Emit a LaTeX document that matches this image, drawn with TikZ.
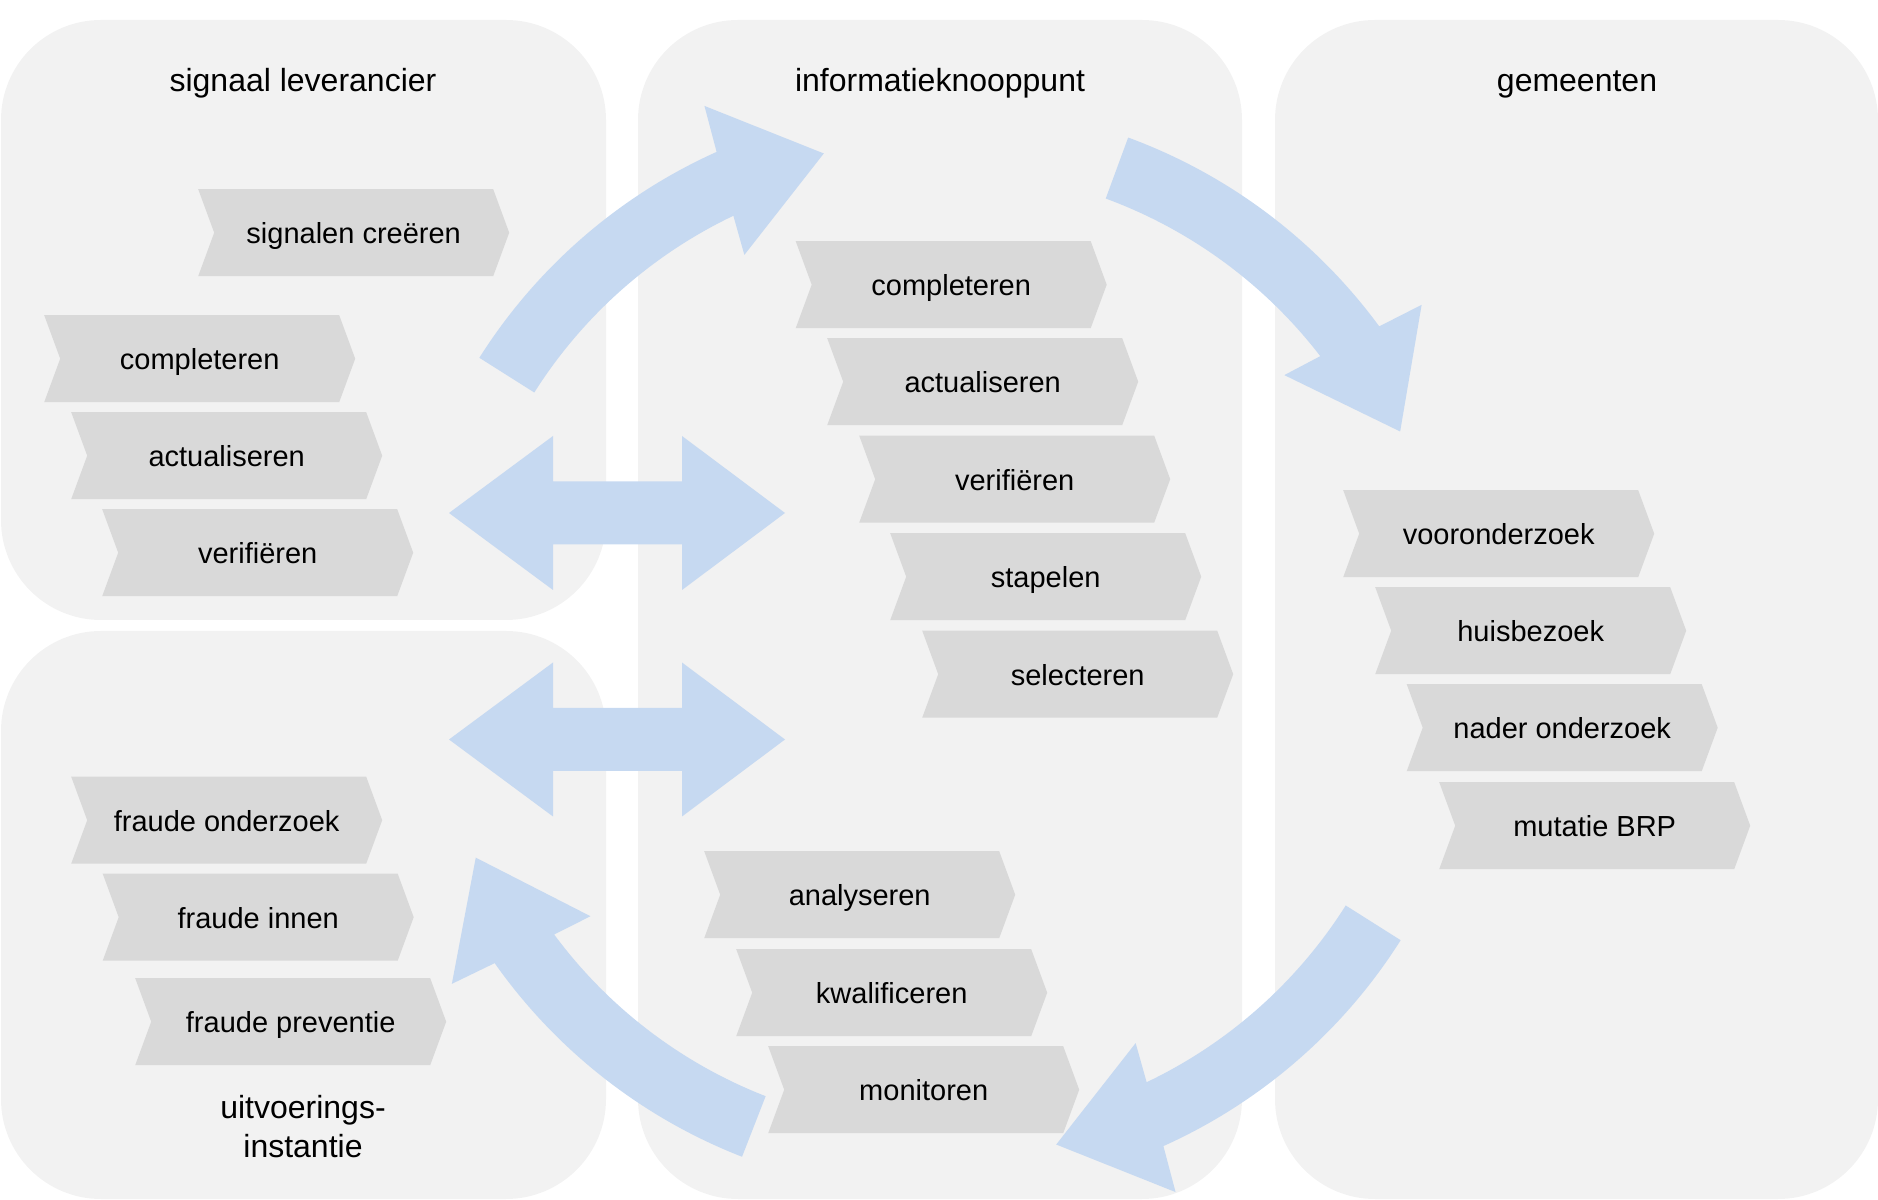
\documentclass[tikz,border=0pt]{standalone}
\usepackage{fontspec}
\setmainfont{Liberation Sans}[Ligatures=NoCommon]
\usetikzlibrary{calc}

\definecolor{panelgray}{HTML}{F2F2F2}
\definecolor{stepgray}{HTML}{D9D9D9}
\definecolor{flowblue}{HTML}{C6D9F1}

\tikzset{
  panel/.style={fill=panelgray, rounded corners=100pt},
  flow/.style={fill=flowblue},
  titel/.style={anchor=base, font=\fontsize{32}{39}\selectfont},
  stap/.style={anchor=north west, minimum width=311pt, minimum height=87pt,
    inner sep=0pt, text height=22pt, text depth=0pt,
    font=\fontsize{29}{35}\selectfont,
    path picture={\fill[stepgray] (path picture bounding box.north west)
      -- ([xshift=-16pt]path picture bounding box.north east)
      -- (path picture bounding box.east)
      -- ([xshift=-16pt]path picture bounding box.south east)
      -- (path picture bounding box.south west)
      -- ([xshift=16pt]path picture bounding box.west) -- cycle;}}
}

\begin{document}
\begin{tikzpicture}[x=1pt, y=1pt]
  \useasboundingbox (0,0) rectangle (1878,1199);

  % panels
  \fill[panel] (1,579) rectangle (606,1179);
  \fill[panel] (1,0) rectangle (606,568);
  \fill[panel] (638,0) rectangle (1242,1179);
  \fill[panel] (1275,0) rectangle (1878,1179);

  \node[titel] (lev) at (303,1107) {signaal leverancier};
  \node[titel] (ikp) at (940,1107) {informatieknooppunt};
  \node[titel] (gem) at (1577,1107) {gemeenten};
  \node[titel] (uvi1) at (303,81) {uitvoerings-};
  \node[titel] (uvi2) at (303,42) {instantie};

  % ring of arrows
  \coordinate (ring) at (940,550);
  \foreach \rot in {0,-77.9,-180,-259}{
    \begin{scope}[shift={(ring)}, rotate=\rot]
      \fill[flow] (147.7:545) arc[start angle=147.7, end angle=114.2, radius=545]
        -- (113.45:592) -- (103.2:509) -- (116.4:440) -- (115.5:480)
        arc[start angle=115.5, end angle=147.7, radius=480] -- cycle;
    \end{scope}
  }

  % double arrows
  \foreach \y in {686,459.5}
    \fill[flow] (449,\y) -- ++(104,77) -- ++(0,-45.5) -- ++(129,0) -- ++(0,45.5)
      -- ++(103,-77) -- ++(-103,-77) -- ++(0,45.5) -- ++(-129,0) -- ++(0,-45.5) -- cycle;

  % signaal leverancier
  \node[stap] (lev-sig) at (198,1010) {signalen creëren};
  \node[stap] (lev-comp) at (44,884) {completeren};
  \node[stap] (lev-act) at (71,787) {actualiseren};
  \node[stap] (lev-ver) at (102,690) {verifiëren};

  % informatieknooppunt
  \node[stap] (ikp-comp) at (795.5,958) {completeren};
  \node[stap] (ikp-act) at (827,861) {actualiseren};
  \node[stap] (ikp-ver) at (859,763.5) {verifiëren};
  \node[stap] (ikp-stap) at (890,666) {stapelen};
  \node[stap] (ikp-sel) at (922,568.5) {selecteren};
  \node[stap] (ikp-ana) at (704,348) {analyseren};
  \node[stap] (ikp-kwal) at (736,250) {kwalificeren};
  \node[stap] (ikp-mon) at (768,153) {monitoren};

  % gemeenten
  \node[stap] (gem-voor) at (1343,709) {vooronderzoek};
  \node[stap] (gem-huis) at (1375,612) {huisbezoek};
  \node[stap] (gem-nader) at (1406.5,515) {nader onderzoek};
  \node[stap] (gem-mut) at (1439,417) {mutatie BRP};

  % uitvoeringsinstantie
  \node[stap] (uvi-ond) at (71,422.5) {fraude onderzoek};
  \node[stap] (uvi-inn) at (102.5,325.5) {fraude innen};
  \node[stap] (uvi-prev) at (135,221) {fraude preventie};
\end{tikzpicture}
\end{document}
